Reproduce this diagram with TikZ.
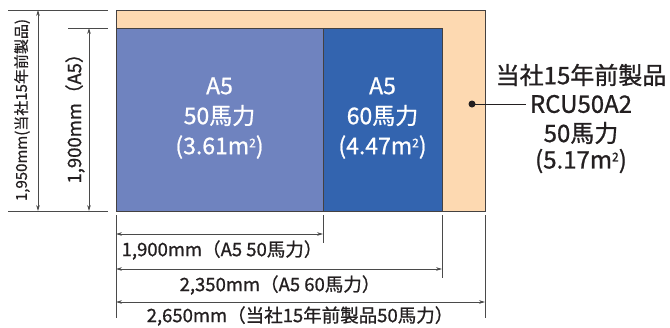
\documentclass[tikz,border=0pt]{standalone}
\usepackage{fontspec}
\setmainfont{Noto Sans CJK JP}
\newfontfamily\medfont{Noto Sans CJK JP}[FakeBold=0.9]
\usetikzlibrary{arrows.meta}
\definecolor{peach}{HTML}{FDD9B1}
\definecolor{blueA}{HTML}{6F83BF}
\definecolor{blueB}{HTML}{3364AF}
\definecolor{ink}{HTML}{231F20}
\definecolor{dimc}{HTML}{4A4A4A}
\newcommand{\sqm}{m\raisebox{0.55ex}{\fontsize{12}{12}\selectfont 2}}
\tikzset{
  box/.style={draw=ink!85, line width=0.9pt},
  dimline/.style={draw=dimc, line width=0.8pt},
  dimarrow/.style={draw=dimc, line width=0.8pt, {Stealth[length=6pt,width=3.6pt]}-{Stealth[length=6pt,width=3.6pt]}},
  intext/.style={text=white, align=center, font=\medfont\fontsize{23}{30}\selectfont},
  dimtext/.style={text=ink, inner sep=0pt, font=\medfont\fontsize{18.5}{20}\selectfont},
  rlabel/.style={text=ink, align=center, font=\medfont\fontsize{24}{29}\selectfont, inner sep=0pt},
}
\begin{document}
\begin{tikzpicture}[x=1pt,y=-1pt]
\useasboundingbox (0,0) rectangle (670,327);
% rectangles
\draw[box, fill=peach] (116,10) rectangle (485,211);
\draw[box, fill=blueA] (116,28) rectangle (323,211);
\draw[box, fill=blueB] (323,28) rectangle (442,211);
\node[intext] (t50) at (219.5,118) {A5\\50馬力\\(3.61\sqm)};
\node[intext] (t60) at (382.5,118) {A5\\60馬力\\(4.47\sqm)};
% left dimension
\coordinate (lt1) at (8,10);   \coordinate (lt1e) at (108,10);
\coordinate (lb1) at (8,211);  \coordinate (lb1e) at (108,211);
\coordinate (lt2) at (68,28);  \coordinate (lt2e) at (108,28);
\draw[dimline] (lt1) -- (lt1e);
\draw[dimline] (lb1) -- (lb1e);
\draw[dimline] (lt2) -- (lt2e);
\coordinate (a1s) at (38,10); \coordinate (a1e) at (38,211);
\coordinate (a2s) at (89,28); \coordinate (a2e) at (89,211);
\draw[dimarrow] (a1s) -- (a1e);
\draw[dimarrow] (a2s) -- (a2e);
\node[dimtext, rotate=90, font=\medfont\fontsize{15}{18}\selectfont] (l1950) at (22,110) {1,950mm(当社15年前製品)};
\node[dimtext, rotate=90] (l1900) at (75,114) {1,900mm（A5）};
% bottom dimension
\coordinate (v1s) at (116,215); \coordinate (v1e) at (116,318);
\coordinate (v2s) at (323,215); \coordinate (v2e) at (323,243);
\coordinate (v3s) at (442,215); \coordinate (v3e) at (442,278);
\coordinate (v4s) at (485,215); \coordinate (v4e) at (485,318);
\draw[dimline] (v1s) -- (v1e);
\draw[dimline] (v2s) -- (v2e);
\draw[dimline] (v3s) -- (v3e);
\draw[dimline] (v4s) -- (v4e);
\coordinate (b1s) at (116,234); \coordinate (b1e) at (323,234);
\coordinate (b2s) at (116,269); \coordinate (b2e) at (442,269);
\coordinate (b3s) at (116,302); \coordinate (b3e) at (485,302);
\draw[dimarrow] (b1s) -- (b1e);
\draw[dimarrow] (b2s) -- (b2e);
\draw[dimarrow] (b3s) -- (b3e);
\node[dimtext] (d1) at (222,250) {1,900mm（A5 50馬力）};
\node[dimtext] (d2) at (280,285) {2,350mm（A5 60馬力）};
\node[dimtext] (d3) at (300,316) {2,650mm（当社15年前製品50馬力）};
% right label
\node[circle, fill=ink, inner sep=0pt, minimum size=7pt] (dot) at (472,104) {};
\node[rlabel] (r1) at (581,75) {当社15年前製品};
\node[rlabel] (r2) at (581,104) {RCU50A2};
\node[rlabel] (r3) at (581,133) {50馬力};
\node[rlabel] (r4) at (581,161) {(5.17\sqm)};
\coordinate (lineend) at ([xshift=-4pt]r2.west);
\draw[ink, line width=0.9pt] (dot.center) -- (lineend);
\end{tikzpicture}
\end{document}
